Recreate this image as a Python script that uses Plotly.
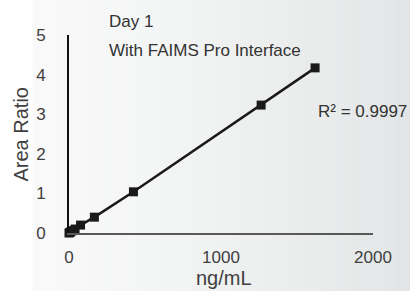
import plotly.graph_objects as go

# Data
conc_ng_ml = [0, 5, 12, 25, 40, 76, 167, 424, 1264, 1619]
area_ratio = [0.0, 0.01, 0.03, 0.06, 0.1, 0.2, 0.4, 1.04, 3.23, 4.17]
x_ticks = [0, 1000, 2000]
y_ticks = [0, 1, 2, 3, 4, 5]
title_lines = ["Day 1", "With FAIMS Pro Interface"]
r2_label = "R² = 0.9997"

W, H = 410, 291
L, R, T, B = 68.5, 37, 35, 58
pw, ph = W - L - R, H - T - B

def px_to_paper_x(px):
    return (px - L) / pw

def py_to_paper_y(py):
    return (H - B - py) / ph

FONT = "Arial, Liberation Sans, sans-serif"
TXT = "#404040"

fig = go.Figure()
fig.add_trace(go.Scatter(
    x=conc_ng_ml, y=area_ratio, mode="lines+markers",
    line=dict(color="#1a1a1a", width=2.5),
    marker=dict(symbol="square", size=9, color="#1a1a1a"),
    cliponaxis=False, showlegend=False, hoverinfo="skip"))

# background gradient (slide-like)
shapes = []
shapes.append(dict(type="rect", xref="paper", yref="paper",
                   x0=px_to_paper_x(-5), x1=px_to_paper_x(32),
                   y0=-0.5, y1=1.5, fillcolor="#ffffff", line_width=0, layer="below"))
n = 40
c0 = (249, 249, 249)
c1 = (228, 231, 231)
for i in range(n):
    a = 32 + (395 - 32) * i / n
    b = 32 + (395 - 32) * (i + 1) / n + 0.5
    t = i / (n - 1)
    t = t ** 1.3
    col = tuple(round(c0[k] + (c1[k] - c0[k]) * t) for k in range(3))
    shapes.append(dict(type="rect", xref="paper", yref="paper",
                       x0=px_to_paper_x(a), x1=px_to_paper_x(b),
                       y0=-0.5, y1=1.5, fillcolor="rgb(%d,%d,%d)" % col,
                       line_width=0, layer="below"))
shapes.append(dict(type="rect", xref="paper", yref="paper",
                   x0=px_to_paper_x(395), x1=px_to_paper_x(415),
                   y0=-0.5, y1=1.5, fillcolor="rgb(225,229,229)", line_width=0, layer="below"))

annotations = [
    dict(text="Area Ratio", xref="paper", yref="paper", x=0, y=0.5,
         xshift=20 - L, xanchor="center", yanchor="middle", textangle=-90,
         showarrow=False, font=dict(family=FONT, size=20, color=TXT)),
    dict(text="ng/mL", xref="paper", yref="paper", x=px_to_paper_x(224), y=0,
         yshift=-(278 - (H - B)), xanchor="center", yanchor="middle",
         showarrow=False, font=dict(family=FONT, size=20, color=TXT)),
    dict(text=title_lines[0], xref="paper", yref="paper", x=px_to_paper_x(107),
         y=py_to_paper_y(22), xanchor="left", yanchor="middle",
         showarrow=False, font=dict(family=FONT, size=17, color="#333333")),
    dict(text=title_lines[1], xref="paper", yref="paper", x=px_to_paper_x(107),
         y=py_to_paper_y(51), xanchor="left", yanchor="middle",
         showarrow=False, font=dict(family=FONT, size=17, color="#333333")),
    dict(text=r2_label, xref="paper", yref="paper", x=px_to_paper_x(316),
         y=py_to_paper_y(112), xanchor="left", yanchor="middle",
         showarrow=False, font=dict(family=FONT, size=17, color="#333333")),
]

fig.update_layout(
    width=W, height=H,
    margin=dict(l=L, r=R, t=T, b=B, pad=0),
    paper_bgcolor="#ffffff", plot_bgcolor="rgba(0,0,0,0)",
    shapes=shapes, annotations=annotations,
    font=dict(family=FONT, color=TXT, size=17),
    xaxis=dict(range=[0, 2000], tickvals=x_ticks, ticktext=[str(v) for v in x_ticks],
               showgrid=False, zeroline=False, showline=True, linecolor="#595959",
               linewidth=2, ticks="", ticklabelstandoff=8,
               tickfont=dict(family=FONT, size=17, color=TXT), fixedrange=True),
    yaxis=dict(range=[0, 5], tickvals=y_ticks, ticktext=[str(v) for v in y_ticks],
               showgrid=False, zeroline=False, showline=True, linecolor="#111111",
               linewidth=2, ticks="", ticklabelstandoff=18,
               tickfont=dict(family=FONT, size=17, color=TXT), fixedrange=True),
)

fig.write_html(
    "out.html",
    config={"displayModeBar": False},
    post_script="document.body.style.margin='0';document.body.style.overflow='hidden';",
)
